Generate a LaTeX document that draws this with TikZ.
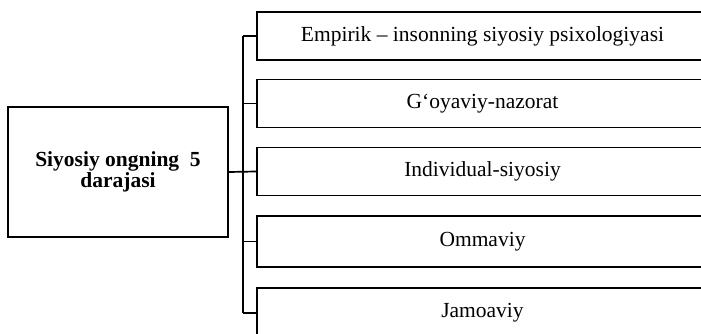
\documentclass[tikz,border=0pt]{standalone}
\usepackage{fontspec}
\setmainfont{Liberation Serif}
\begin{document}
\begin{tikzpicture}[x=1pt,y=-1pt,
  every node/.style={inner sep=0pt},
  frame/.style={draw,line width=1.7pt,rectangle},
  mainbox/.style={frame,minimum width=220pt,minimum height=130pt,align=center,font=\fontsize{21.5}{21}\selectfont\bfseries},
  levelbox/.style={frame,minimum width=451pt,minimum height=48pt,font=\fontsize{21.5}{24}\selectfont},
  wire/.style={line width=1.7pt}]
\useasboundingbox (0,0) rectangle (701,334);
\clip (0,0) rectangle (701,334);
\node[mainbox] (main) at (118,172) {Siyosiy ongning\ \ 5\\darajasi};
\node[levelbox] (b1) at (482.5,36) {Empirik -- insonning siyosiy psixologiyasi};
\node[levelbox] (b2) at (482.5,103.5) {G‘oyaviy-nazorat};
\node[levelbox] (b3) at (482.5,171.5) {Individual-siyosiy};
\node[levelbox,minimum height=51pt] (b4) at (482.5,241.5) {Ommaviy};
\node[levelbox,minimum height=50pt] (b5) at (482.5,313) {Jamoaviy};
\coordinate (bt) at (243,36);
\coordinate (bb) at (243,313);
\draw[wire] (bt) -- (bb);
\draw[wire] (main.east) -- (b3.west);
\draw[wire] (bt) -- (b1.west);
\draw[wire] (bt |- b2.west) -- (b2.west);
\draw[wire] (bt |- b4.west) -- (b4.west);
\draw[wire] (bb) -- (b5.west);
\end{tikzpicture}
\end{document}
